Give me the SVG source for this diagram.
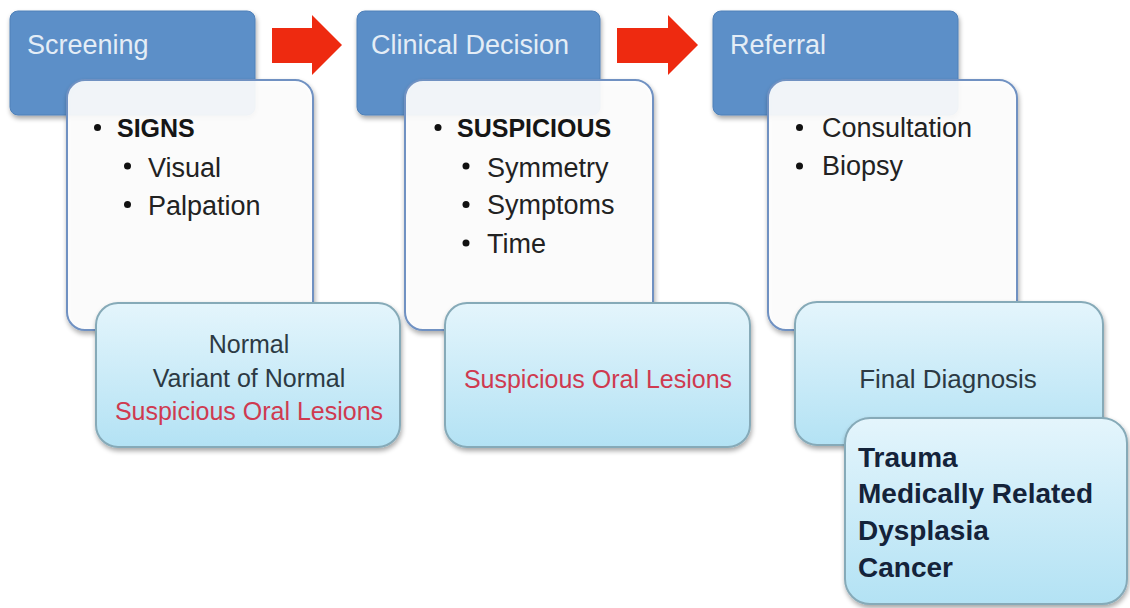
<svg xmlns="http://www.w3.org/2000/svg" width="1130" height="608" viewBox="0 0 1130 608">
<defs>
<linearGradient id="lb" x1="0" y1="0" x2="0" y2="1">
<stop offset="0" stop-color="#e4f5fc"/>
<stop offset="1" stop-color="#b3e2f4"/>
</linearGradient>
<filter id="sh" x="-10%" y="-10%" width="130%" height="130%">
<feGaussianBlur in="SourceAlpha" stdDeviation="2.5"/>
<feOffset dx="1" dy="3" result="b"/>
<feComponentTransfer><feFuncA type="linear" slope="0.35"/></feComponentTransfer>
<feMerge><feMergeNode/><feMergeNode in="SourceGraphic"/></feMerge>
</filter>
</defs>
<style>
.head{fill:#5b8fc8;stroke:#4f80b8;stroke-width:1}
.htxt{font-family:"Liberation Sans",Arial,sans-serif;font-size:27px;fill:#e4edf6}
.card{fill:#ffffff;fill-opacity:0.9;stroke:#6f91c2;stroke-width:2}
.res{fill:url(#lb);stroke:#86aab8;stroke-width:2}
.body{font-family:"Liberation Sans",Arial,sans-serif;font-size:27px;fill:#222222}
.bold{font-family:"Liberation Sans",Arial,sans-serif;font-size:25px;font-weight:bold;fill:#161616}
.rtxt{font-family:"Liberation Sans",Arial,sans-serif;font-size:25px;fill:#2c3a44;text-anchor:middle}
.red{fill:#cf3a50}
.fbold{font-family:"Liberation Sans",Arial,sans-serif;font-size:28px;font-weight:bold;fill:#14233a}
.dot{fill:#111111}
.arrow{fill:#ee2a10}
</style>

<g id="connectors">
<polygon class="arrow" points="272,28 312,28 312,15 342,45 312,75 312,63 272,63"/>
<polygon class="arrow" points="617,28 668,28 668,15 698,45 668,75 668,63 617,63"/>
</g>

<g id="screening">
<rect class="head" x="10" y="11" width="245" height="104" rx="8" filter="url(#sh)"/>
<text class="htxt" x="27" y="54">Screening</text>
</g>
<g id="screening-card">
<rect class="card" x="67" y="80" width="246" height="250" rx="18" filter="url(#sh)"/>
<circle class="dot" cx="97.5" cy="127.5" r="3.5"/>
<text class="bold" x="117" y="137">SIGNS</text>
<circle class="dot" cx="127.5" cy="166" r="3.5"/>
<text class="body" x="148" y="177">Visual</text>
<circle class="dot" cx="127.5" cy="204.5" r="3.5"/>
<text class="body" x="148" y="215">Palpation</text>
</g>

<g id="clinical">
<rect class="head" x="357" y="11" width="243" height="104" rx="8" filter="url(#sh)"/>
<text class="htxt" x="371" y="54">Clinical Decision</text>
</g>
<g id="clinical-card">
<rect class="card" x="405" y="80" width="248" height="250" rx="18" filter="url(#sh)"/>
<circle class="dot" cx="438" cy="127.5" r="3.5"/>
<text class="bold" x="457" y="137">SUSPICIOUS</text>
<circle class="dot" cx="466" cy="166" r="3.5"/>
<text class="body" x="487" y="177">Symmetry</text>
<circle class="dot" cx="466" cy="204.5" r="3.5"/>
<text class="body" x="487" y="214">Symptoms</text>
<circle class="dot" cx="466" cy="243" r="3.5"/>
<text class="body" x="487" y="253">Time</text>
</g>

<g id="referral">
<rect class="head" x="713" y="11" width="245" height="104" rx="8" filter="url(#sh)"/>
<text class="htxt" x="730" y="54">Referral</text>
</g>
<g id="referral-card">
<rect class="card" x="768" y="80" width="249" height="250" rx="18" filter="url(#sh)"/>
<circle class="dot" cx="799.5" cy="127.5" r="3.5"/>
<text class="body" x="822" y="137">Consultation</text>
<circle class="dot" cx="799.5" cy="166" r="3.5"/>
<text class="body" x="822" y="175">Biopsy</text>
</g>

<g id="screening-result">
<rect class="res" x="96" y="303" width="304" height="144" rx="22" filter="url(#sh)"/>
<text class="rtxt" x="249" y="353">Normal</text>
<text class="rtxt" x="249" y="387">Variant of Normal</text>
<text class="rtxt red" x="249" y="420">Suspicious Oral Lesions</text>
</g>

<g id="clinical-result">
<rect class="res" x="445" y="303" width="305" height="144" rx="22" filter="url(#sh)"/>
<text class="rtxt red" x="598" y="388">Suspicious Oral Lesions</text>
</g>

<g id="referral-result">
<rect class="res" x="795" y="302" width="308" height="143" rx="22" filter="url(#sh)"/>
<text class="rtxt" x="948" y="388" style="font-size:26px">Final Diagnosis</text>
</g>

<g id="final-diagnoses">
<rect class="res" x="845" y="418" width="282" height="186" rx="25" filter="url(#sh)"/>
<text class="fbold" x="858" y="467">Trauma</text>
<text class="fbold" x="858" y="503">Medically Related</text>
<text class="fbold" x="858" y="540">Dysplasia</text>
<text class="fbold" x="858" y="577">Cancer</text>
</g>
</svg>
